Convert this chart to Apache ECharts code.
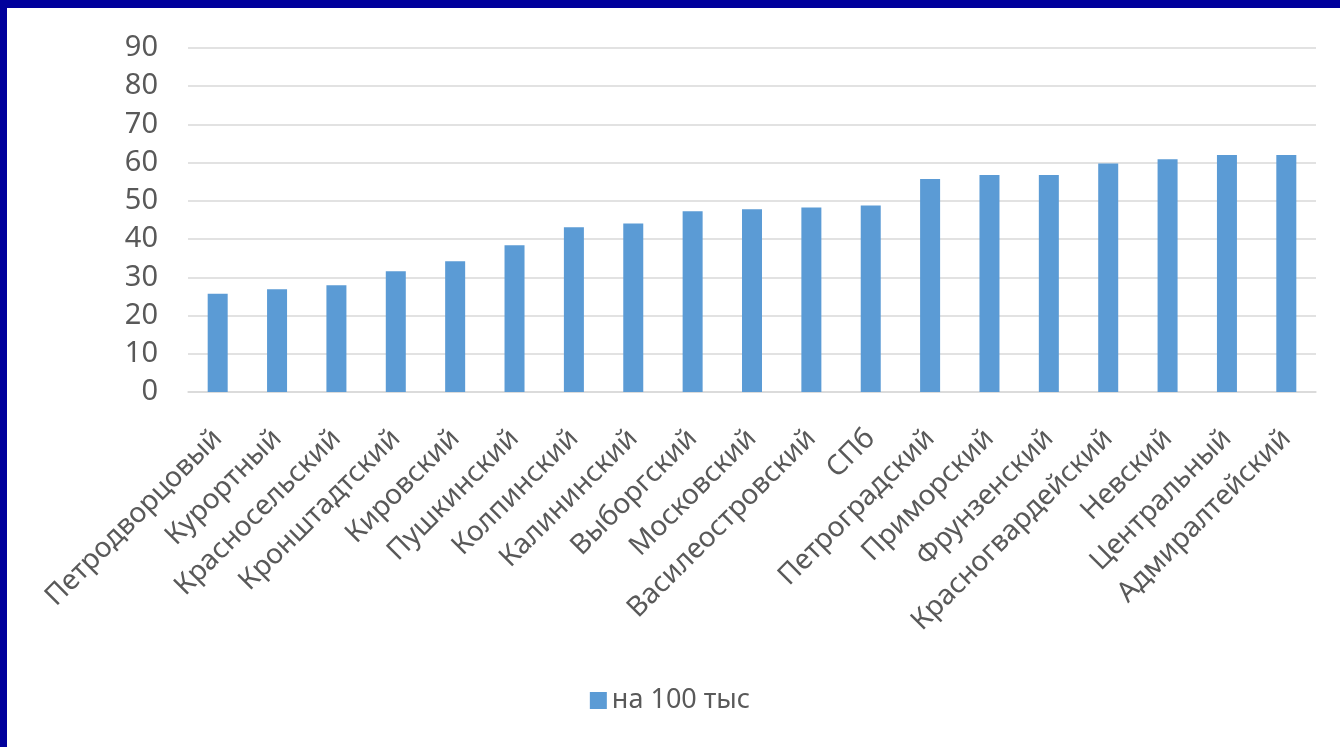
<!DOCTYPE html>
<html lang="ru">
<head>
    <meta charset="UTF-8">
    <title>на 100 тыс</title>
    <script src="https://cdn.jsdelivr.net/npm/echarts@6/dist/echarts.min.js"></script>
    <style>
        html, body { margin: 0; padding: 0; background: #fff; }
        #frame { position: relative; width: 1340px; height: 747px; overflow: hidden; }
        #topbar { position: absolute; left: 0; top: 0; width: 1340px; height: 8px; background: #00009c; }
        #leftbar { position: absolute; left: 0; top: 0; width: 7px; height: 747px; background: #00009c; }
        #chart { position: absolute; left: 0; top: 0; width: 1340px; height: 747px; }
    </style>
</head>
<body>
<div id="frame">
    <div id="chart"></div>
    <div id="topbar"></div>
    <div id="leftbar"></div>
</div>
<script type="text/javascript">
    // районы, по возрастанию
    var districts = ['Петродворцовый', 'Курортный', 'Красносельский', 'Кронштадтский', 'Кировский',
        'Пушкинский', 'Колпинский', 'Калининский', 'Выборгский', 'Московский', 'Василеостровский',
        'СПб', 'Петроградский', 'Приморский', 'Фрунзенский', 'Красногвардейский', 'Невский',
        'Центральный', 'Адмиралтейский'];
    var per100k = [25.7, 26.9, 27.9, 31.6, 34.2, 38.4, 43.1, 44.1, 47.3, 47.8, 48.3, 48.8,
        55.7, 56.8, 56.8, 59.8, 60.9, 62.0, 62.0];
    var seriesName = 'на 100 тыс';

    var myChart = echarts.init(document.getElementById('chart'));
    var font = '"Noto Sans", "Open Sans", sans-serif';
    var option = {
        animation: false,
        backgroundColor: 'transparent',
        grid: { left: 188, right: 24, top: 48, bottom: 355 },
        legend: {
            data: [seriesName],
            bottom: 28,
            left: 'center',
            itemWidth: 17,
            itemHeight: 17,
            itemGap: 10,
            icon: 'rect',
            textStyle: { color: '#595959', fontSize: 27, fontFamily: font }
        },
        xAxis: {
            type: 'category',
            data: districts,
            axisLine: { lineStyle: { color: '#d9d9d9', width: 1.5 } },
            axisTick: { show: false },
            axisLabel: {
                interval: 0,
                rotate: 45,
                margin: 42,
                color: '#595959',
                fontSize: 28,
                fontFamily: font
            }
        },
        yAxis: {
            type: 'value',
            min: 0,
            max: 90,
            interval: 10,
            axisLine: { show: false },
            axisTick: { show: false },
            splitLine: { lineStyle: { color: '#d9d9d9', width: 1.5 } },
            axisLabel: { color: '#595959', fontSize: 29, fontFamily: font, margin: 30 }
        },
        series: [{
            name: seriesName,
            type: 'bar',
            data: per100k,
            barWidth: 20,
            itemStyle: { color: '#5b9bd5' }
        }]
    };
    myChart.setOption(option);
</script>
</body>
</html>
